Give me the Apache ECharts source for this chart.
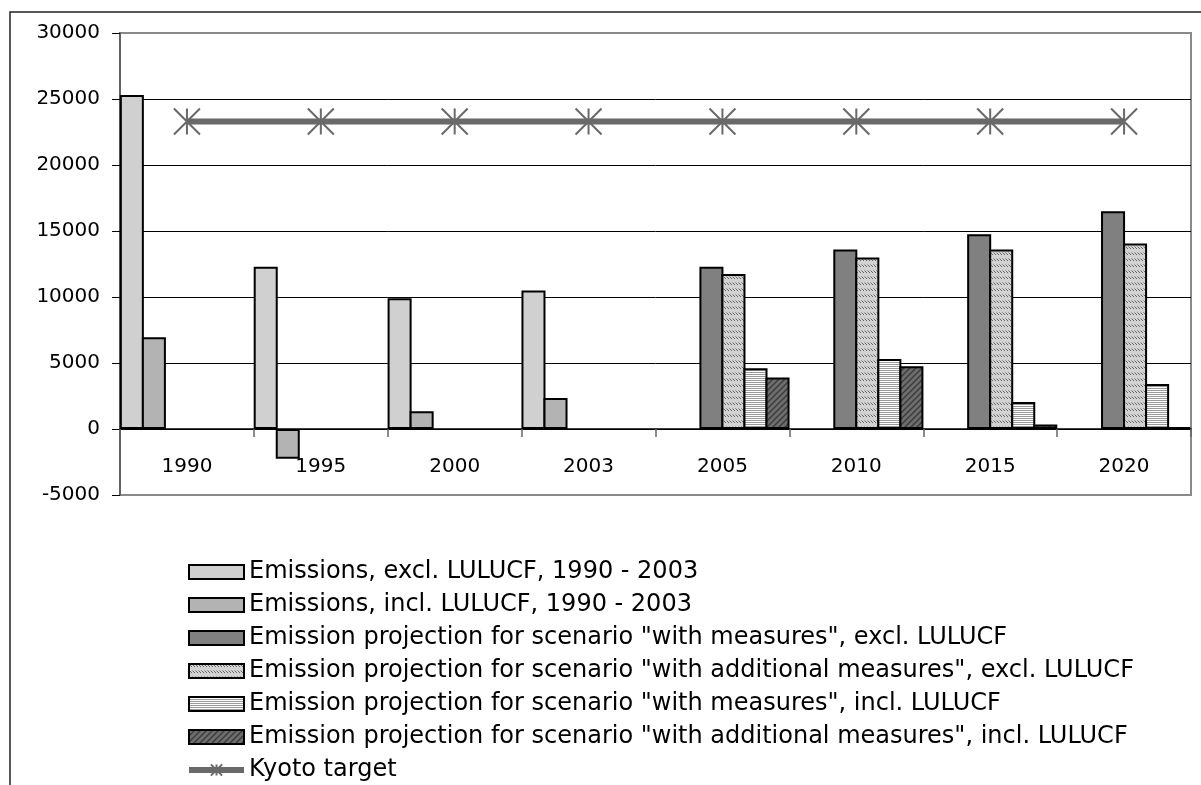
<!DOCTYPE html>
<html>
<head>
<meta charset="utf-8">
<script src="https://cdn.jsdelivr.net/npm/echarts@6/dist/echarts.min.js"></script>
<style>
  html, body { margin: 0; padding: 0; background: #fff; }
  #chart { width: 1201px; height: 785px; }
</style>
</head>
<body>
<div id="chart"></div>
<script>
// Greenhouse gas emissions and projections (Gg CO2 eq.)
const years = ['1990', '1995', '2000', '2003', '2005', '2010', '2015', '2020'];

const exclLULUCF = [25300, 12300, 9900, 10500, null, null, null, null];
const inclLULUCF = [6950, -2250, 1350, 2350, null, null, null, null];
const wmExcl = [null, null, null, null, 12300, 13600, 14750, 16500];
const wamExcl = [null, null, null, null, 11750, 13000, 13600, 14050];
const wmIncl = [null, null, null, null, 4600, 5300, 2050, 3400];
const wamIncl = [null, null, null, null, 3900, 4750, 350, 150];
const kyotoTarget = [23300, 23300, 23300, 23300, 23300, 23300, 23300, 23300];

const seriesNames = [
  'Emissions, excl. LULUCF, 1990 - 2003',
  'Emissions, incl. LULUCF, 1990 - 2003',
  'Emission projection for scenario "with measures", excl. LULUCF',
  'Emission projection for scenario "with additional measures", excl. LULUCF',
  'Emission projection for scenario "with measures", incl. LULUCF',
  'Emission projection for scenario "with additional measures", incl. LULUCF',
  'Kyoto target'
];

const FONT = 'DejaVu Sans';

// Small repeating canvas tiles used as hatched bar fills
function makePattern(size, draw) {
  const c = document.createElement('canvas');
  c.width = size; c.height = size;
  const ctx = c.getContext('2d');
  draw(ctx, size);
  return { image: c, repeat: 'repeat' };
}

// light gray with short "\" dashes in rows
const dashFill = makePattern(6, (ctx, s) => {
  ctx.fillStyle = '#d2d2d2';
  ctx.fillRect(0, 0, s, s);
  ctx.strokeStyle = '#6a6a6a';
  ctx.lineWidth = 1;
  ctx.beginPath();
  ctx.moveTo(0.5, 0.5); ctx.lineTo(3, 3);
  ctx.moveTo(3.5, 0.5); ctx.lineTo(6, 3);
  ctx.stroke();
});

// white with thin horizontal lines
const hLineFill = makePattern(4, (ctx, s) => {
  ctx.fillStyle = '#ffffff';
  ctx.fillRect(0, 0, s, s);
  ctx.fillStyle = '#9a9a9a';
  ctx.fillRect(0, 0, s, 1);
  ctx.fillRect(0, 2, s, 1);
});

// dark gray with "/" diagonal lines
const diagFill = makePattern(6, (ctx, s) => {
  ctx.fillStyle = '#6e6e6e';
  ctx.fillRect(0, 0, s, s);
  ctx.strokeStyle = '#3a3a3a';
  ctx.lineWidth = 1.4;
  ctx.beginPath();
  ctx.moveTo(-1, s + 1); ctx.lineTo(s + 1, -1);
  ctx.moveTo(-1, 1); ctx.lineTo(1, -1);
  ctx.moveTo(s - 1, s + 1); ctx.lineTo(s + 1, s - 1);
  ctx.stroke();
});

// Six bar slots fill each category; neighbouring bars share their 2px outline.
function barSeries(name, data, fill) {
  return {
    name: name,
    type: 'bar',
    data: data,
    barWidth: '17.95%',
    barGap: '-8.3%',
    barCategoryGap: '0%',
    itemStyle: { color: fill, borderColor: '#000', borderWidth: 2 },
    emphasis: { disabled: true }
  };
}

const chart = echarts.init(document.getElementById('chart'), null, { renderer: 'canvas' });

const legendData = seriesNames.map((n, i) => i < 6
  ? { name: n, icon: 'rect' }
  : { name: n });

chart.setOption({
  animation: false,
  backgroundColor: '#fff',
  textStyle: { fontFamily: FONT },
  graphic: [{
    type: 'rect',
    shape: { x: 10, y: 12, width: 1250, height: 900 },
    style: { fill: 'none', stroke: '#222', lineWidth: 1.5 },
    silent: true,
    z: -10
  }],
  grid: {
    left: 120, top: 33, right: 10, bottom: 290,
    show: true, borderColor: '#8a8a8a', borderWidth: 2, backgroundColor: 'transparent'
  },
  legend: {
    orient: 'vertical',
    left: 186,
    top: 560,
    padding: 0,
    itemWidth: 55,
    itemHeight: 14,
    itemGap: 9,
    selectedMode: false,
    lineStyle: { width: 6 },
    textStyle: { fontFamily: FONT, fontSize: 24, color: '#000' },
    data: legendData
  },
  xAxis: {
    type: 'category',
    data: years,
    axisLine: { onZero: true, lineStyle: { color: '#000', width: 1.5 } },
    axisTick: { show: true, interval: 0, length: 8, lineStyle: { color: '#666', width: 1.5 } },
    axisLabel: { fontFamily: FONT, fontSize: 20, color: '#000', margin: -38, interval: 0 },
    splitLine: { show: false }
  },
  yAxis: {
    type: 'value',
    min: -5000,
    max: 30000,
    interval: 5000,
    axisLine: { show: true, lineStyle: { color: '#555', width: 1.5 } },
    axisTick: { show: true, length: 8, lineStyle: { color: '#000', width: 1 } },
    axisLabel: { fontFamily: FONT, fontSize: 20, color: '#000', margin: 20, formatter: v => String(v) },
    splitLine: { show: true, showMinLine: false, showMaxLine: false, lineStyle: { color: '#000', width: 1 } }
  },
  series: [
    barSeries(seriesNames[0], exclLULUCF, '#d0d0d0'),
    barSeries(seriesNames[1], inclLULUCF, '#b3b3b3'),
    barSeries(seriesNames[2], wmExcl, '#808080'),
    barSeries(seriesNames[3], wamExcl, dashFill),
    barSeries(seriesNames[4], wmIncl, hLineFill),
    barSeries(seriesNames[5], wamIncl, diagFill),
    {
      name: seriesNames[6],
      type: 'line',
      data: kyotoTarget,
      symbol: 'path://M10,0L10,20M0,0L20,20M0,20L20,0',
      symbolSize: 26,
      itemStyle: { color: '#696969', borderColor: '#696969', borderWidth: 2 },
      lineStyle: { color: '#696969', width: 6 },
      z: 5,
      emphasis: { disabled: true }
    }
  ]
});
</script>
</body>
</html>
